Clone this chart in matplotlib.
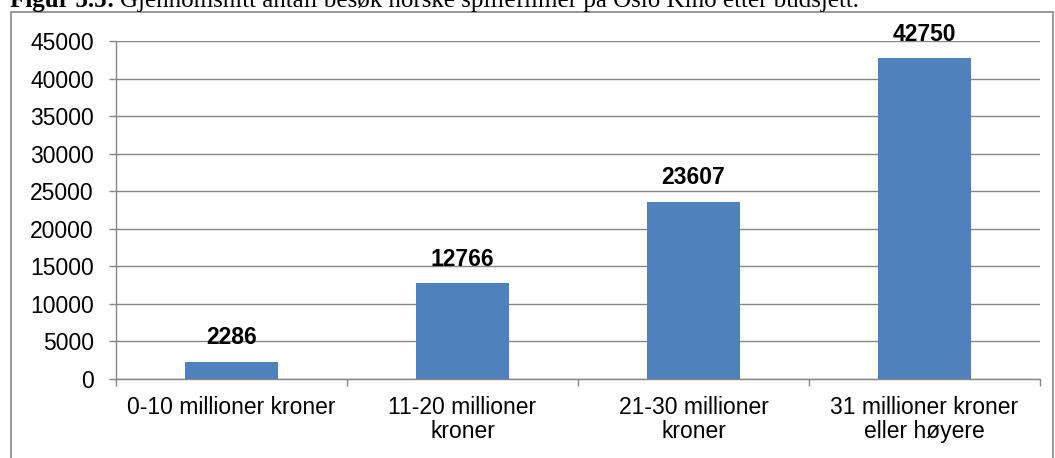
import matplotlib.pyplot as plt
from matplotlib.patches import Rectangle

categories = ['0-10 millioner kroner', '11-20 millioner\nkroner', '21-30 millioner\nkroner',
              '31 millioner kroner\neller høyere']
visits = [2286, 12766, 23607, 42750]
yticks = [0, 5000, 10000, 15000, 20000, 25000, 30000, 35000, 40000, 45000]

W, H = 1055, 458
fig = plt.figure(figsize=(W / 100, H / 100), dpi=100)
plt.rcParams['font.family'] = ['Liberation Sans', 'DejaVu Sans']
fs = 16.5

# plot area in pixels: left 116, right 1040, top 41, bottom 379
ax = fig.add_axes([116 / W, 1 - 379 / H, (1040 - 116) / W, (379 - 41) / H])

grey = '#868686'
x = range(len(categories))
ax.bar(x, visits, width=0.4, color='#4f81bd', zorder=3)
for xi, v in zip(x, visits):
    ax.text(xi, v + 1650, str(v), ha='center', va='bottom', fontsize=fs, fontweight='bold')

ax.set_xlim(-0.5, len(categories) - 0.5)
ax.set_ylim(0, 45000)
ax.set_yticks(yticks)
ax.set_yticklabels([str(t) for t in yticks], fontsize=fs)
ax.grid(axis='y', color=grey, linewidth=1, zorder=0)
ax.tick_params(axis='y', length=5, color=grey, width=1, pad=11)

# category separators as ticks
ax.set_xticks([i + 0.5 for i in range(-1, len(categories))])
ax.set_xticklabels([])
ax.tick_params(axis='x', length=5, color=grey, width=1)
for xi, lab in zip(x, categories):
    ax.text(xi, -2300, lab, ha='center', va='top', fontsize=fs, linespacing=1.05)

for side in ['top', 'right']:
    ax.spines[side].set_visible(False)
for side in ['left', 'bottom']:
    ax.spines[side].set_color(grey)
    ax.spines[side].set_linewidth(1)

# outer chart frame
fig.patches.append(Rectangle((11 / W, -0.05), (1053 - 11) / W, 1 - 12 / H + 0.05,
                             transform=fig.transFigure, fill=False, edgecolor=grey,
                             linewidth=1.2))

# title, partly cut off at the top (as in the source)
base_y = 1 - 7 / H
t1 = fig.text(10 / W, base_y, 'Figur 5.5:', family='Liberation Serif', fontweight='bold',
              fontsize=18, va='baseline', ha='left')
renderer = fig.canvas.get_renderer()
x_end = t1.get_window_extent(renderer).x1
fig.text((x_end + 5) / W, base_y,
         'Gjennomsnitt antall besøk norske spillefilmer på Oslo Kino etter budsjett.',
         family='Liberation Serif', fontsize=18, va='baseline', ha='left')

fig.savefig('out.png', dpi=100)
